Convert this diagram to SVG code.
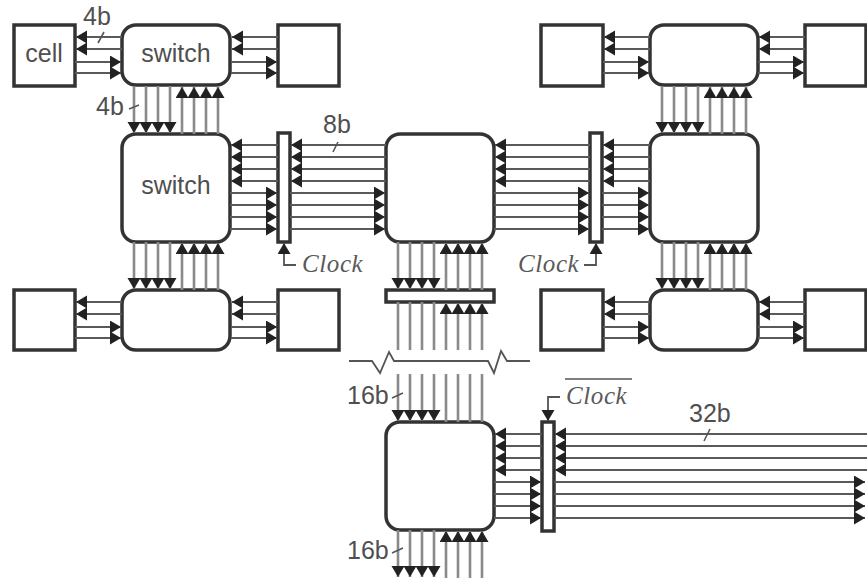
<svg xmlns="http://www.w3.org/2000/svg" xmlns:xlink="http://www.w3.org/1999/xlink" width="867" height="586" viewBox="0 0 867 586">
<style>
.n{fill:#fff;stroke:#333;stroke-width:3.5}
.h line,.h path{stroke:#5a5a5a;stroke-width:2;fill:none}
.v line{stroke:#8a8a8a;stroke-width:2.6}
.a{marker-end:url(#ah)}
.t{stroke:#555;stroke-width:1.6;fill:none}
.c{stroke:#555;stroke-width:1.8;fill:none}
text{font-family:"Liberation Sans",Arial,sans-serif;font-size:25px;fill:#4f4f4f}
.k{font-family:"Liberation Serif","Times New Roman",serif;font-style:italic;font-size:25px;letter-spacing:0.6px;fill:#5a5a5a}
</style>
<defs>
<marker id="ah" markerUnits="userSpaceOnUse" markerWidth="13" markerHeight="14" refX="11" refY="6.5" orient="auto"><path d="M0 0L11 6.5L0 13z" fill="#222"/></marker>
<g id="h4" class="h"><line class="a" x1="47" y1="0" x2="1" y2="0"/><line class="a" x1="47" y1="12" x2="1" y2="12"/><line class="a" x1="0" y1="25" x2="46" y2="25"/><line class="a" x1="0" y1="36" x2="46" y2="36"/></g>
<g id="h8s" class="h"><line class="a" x1="48" y1="0" x2="1" y2="0"/><line class="a" x1="48" y1="12" x2="1" y2="12"/><line class="a" x1="48" y1="24" x2="1" y2="24"/><line class="a" x1="48" y1="36" x2="1" y2="36"/><line class="a" x1="0" y1="48" x2="47" y2="48"/><line class="a" x1="0" y1="60" x2="47" y2="60"/><line class="a" x1="0" y1="72" x2="47" y2="72"/><line class="a" x1="0" y1="84" x2="47" y2="84"/></g>
<g id="h8l" class="h"><line class="a" x1="96" y1="0" x2="1" y2="0"/><line class="a" x1="96" y1="12" x2="1" y2="12"/><line class="a" x1="96" y1="24" x2="1" y2="24"/><line class="a" x1="96" y1="36" x2="1" y2="36"/><line class="a" x1="0" y1="48" x2="95" y2="48"/><line class="a" x1="0" y1="60" x2="95" y2="60"/><line class="a" x1="0" y1="72" x2="95" y2="72"/><line class="a" x1="0" y1="84" x2="95" y2="84"/></g>
<g id="vb" class="v"><line class="a" x1="0" y1="0" x2="0" y2="47"/><line class="a" x1="12" y1="0" x2="12" y2="47"/><line class="a" x1="24" y1="0" x2="24" y2="47"/><line class="a" x1="36" y1="0" x2="36" y2="47"/><line class="a" x1="48" y1="48" x2="48" y2="1"/><line class="a" x1="60" y1="48" x2="60" y2="1"/><line class="a" x1="72" y1="48" x2="72" y2="1"/><line class="a" x1="84" y1="48" x2="84" y2="1"/></g>
</defs>
<g id="nodes">
<g id="cell-tl"><rect class="n" x="14" y="25" width="61" height="61"/><text x="44" y="62" text-anchor="middle">cell</text></g>
<g id="switch-tl"><rect class="n" x="122" y="25" width="108" height="60" rx="14"/><text x="176" y="62" text-anchor="middle">switch</text></g>
<g id="box-t2"><rect class="n" x="278" y="25" width="61" height="61"/></g>
<g id="box-t3"><rect class="n" x="541" y="25" width="62" height="61"/></g>
<g id="switch-tr"><rect class="n" x="650" y="25" width="108" height="60" rx="14"/></g>
<g id="box-t4"><rect class="n" x="805" y="25" width="61" height="61"/></g>
<g id="switch-ml"><rect class="n" x="122" y="134" width="108" height="108" rx="14"/><text x="176" y="194" text-anchor="middle">switch</text></g>
<g id="bar-l"><rect class="n" x="278" y="133" width="12" height="109"/></g>
<g id="switch-mc"><rect class="n" x="386" y="134" width="108" height="108" rx="14"/></g>
<g id="bar-r"><rect class="n" x="590" y="133" width="12" height="109"/></g>
<g id="switch-mr"><rect class="n" x="650" y="134" width="108" height="108" rx="14"/></g>
<g id="box-b1"><rect class="n" x="14" y="290" width="61" height="60"/></g>
<g id="switch-bl"><rect class="n" x="122" y="290" width="108" height="60" rx="14"/></g>
<g id="box-b2"><rect class="n" x="278" y="290" width="61" height="60"/></g>
<g id="bar-m"><rect class="n" x="386" y="290" width="108" height="12"/></g>
<g id="box-b3"><rect class="n" x="541" y="290" width="62" height="60"/></g>
<g id="switch-br"><rect class="n" x="650" y="290" width="108" height="60" rx="14"/></g>
<g id="box-b4"><rect class="n" x="805" y="290" width="61" height="60"/></g>
<g id="switch-low"><rect class="n" x="386" y="422" width="108" height="108" rx="14"/></g>
<g id="bar-low"><rect class="n" x="542" y="422" width="12" height="109"/></g>
</g>
<g id="connectors">
<use xlink:href="#h4" href="#h4" x="75" y="37"/>
<use xlink:href="#h4" href="#h4" x="231" y="37"/>
<use xlink:href="#h4" href="#h4" x="603" y="37"/>
<use xlink:href="#h4" href="#h4" x="758" y="37"/>
<use xlink:href="#h4" href="#h4" x="75" y="302"/>
<use xlink:href="#h4" href="#h4" x="231" y="302"/>
<use xlink:href="#h4" href="#h4" x="603" y="302"/>
<use xlink:href="#h4" href="#h4" x="758" y="302"/>
<use xlink:href="#h8s" href="#h8s" x="230" y="145"/>
<use xlink:href="#h8l" href="#h8l" x="290" y="145"/>
<use xlink:href="#h8l" href="#h8l" x="494" y="145"/>
<use xlink:href="#h8s" href="#h8s" x="602" y="145"/>
<use xlink:href="#vb" href="#vb" x="134" y="86"/>
<use xlink:href="#vb" href="#vb" x="662" y="86"/>
<use xlink:href="#vb" href="#vb" x="134" y="242"/>
<use xlink:href="#vb" href="#vb" x="398" y="242"/>
<use xlink:href="#vb" href="#vb" x="662" y="242"/>
<use xlink:href="#vb" href="#vb" x="398" y="530"/>
<g class="v">
<line x1="398" y1="302" x2="398" y2="350"/><line x1="410" y1="302" x2="410" y2="350"/><line x1="422" y1="302" x2="422" y2="350"/><line x1="434" y1="302" x2="434" y2="350"/>
<line class="a" x1="446" y1="350" x2="446" y2="303"/><line class="a" x1="458" y1="350" x2="458" y2="303"/><line class="a" x1="470" y1="350" x2="470" y2="303"/><line class="a" x1="482" y1="350" x2="482" y2="303"/>
<line class="a" x1="398" y1="374" x2="398" y2="421"/><line class="a" x1="410" y1="374" x2="410" y2="421"/><line class="a" x1="422" y1="374" x2="422" y2="421"/><line class="a" x1="434" y1="374" x2="434" y2="421"/>
<line x1="446" y1="374" x2="446" y2="422"/><line x1="458" y1="374" x2="458" y2="422"/><line x1="470" y1="374" x2="470" y2="422"/><line x1="482" y1="374" x2="482" y2="422"/>
</g>
<g class="h">
<line class="a" x1="542" y1="434" x2="495" y2="434"/><line class="a" x1="542" y1="446" x2="495" y2="446"/><line class="a" x1="542" y1="458" x2="495" y2="458"/><line class="a" x1="542" y1="470" x2="495" y2="470"/>
<line class="a" x1="494" y1="482" x2="541" y2="482"/><line class="a" x1="494" y1="494" x2="541" y2="494"/><line class="a" x1="494" y1="506" x2="541" y2="506"/><line class="a" x1="494" y1="518" x2="541" y2="518"/>
<line class="a" x1="867" y1="434" x2="555" y2="434"/><line class="a" x1="867" y1="446" x2="555" y2="446"/><line class="a" x1="867" y1="458" x2="555" y2="458"/><line class="a" x1="867" y1="470" x2="555" y2="470"/>
<line class="a" x1="554" y1="482" x2="865" y2="482"/><line class="a" x1="554" y1="494" x2="865" y2="494"/><line class="a" x1="554" y1="506" x2="865" y2="506"/><line class="a" x1="554" y1="518" x2="865" y2="518"/>
</g>
<path class="c a" d="M296 265H284V243"/>
<path class="c a" d="M584 265H596V243"/>
<path class="c a" d="M560 397H548V421"/>
<path class="c" d="M349 361H372L380 373L389 352L394 361H488L494 373L501 351L507 361H530"/>
<path class="t" d="M98 43L104 32M129 109L139 105M333 152L338 142M392 398L403 393M392 553L403 548M704 441L710 429"/>
<path class="t" d="M565 379H632"/>
</g>
<g id="labels">
<text x="83" y="25">4b</text>
<text x="96" y="115">4b</text>
<text x="323" y="133">8b</text>
<text x="347" y="404">16b</text>
<text x="347" y="559">16b</text>
<text x="689" y="422">32b</text>
<text class="k" x="302" y="272">Clock</text>
<text class="k" x="518" y="272">Clock</text>
<text class="k" x="566" y="404">Clock</text>
</g>
</svg>
